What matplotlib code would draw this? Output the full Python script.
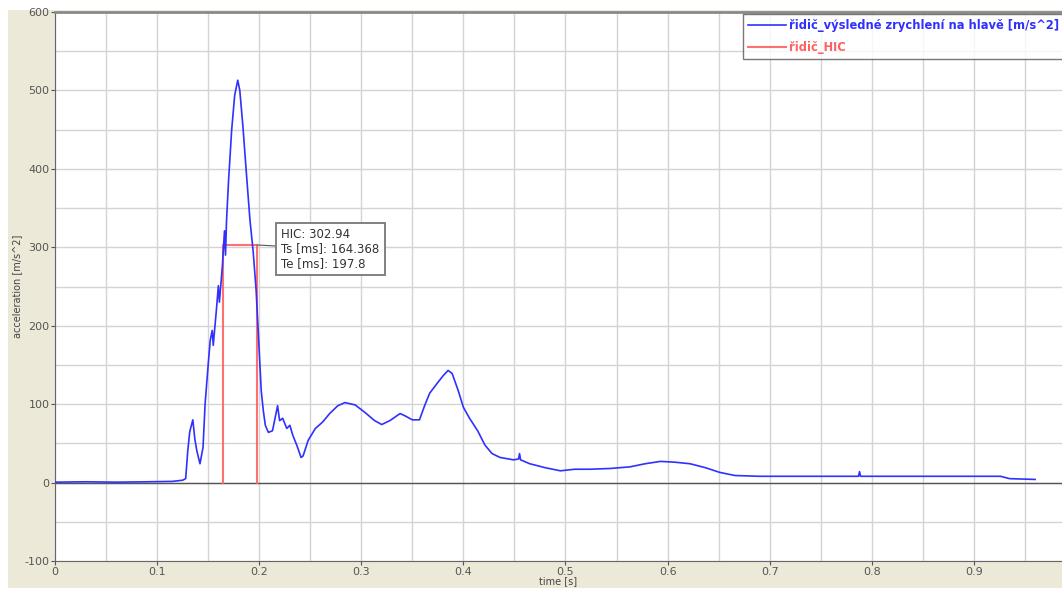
import matplotlib
matplotlib.use("Agg")
import matplotlib.pyplot as plt
from matplotlib.patches import Rectangle
from matplotlib.ticker import MultipleLocator

# ---- data ----
time_s = [0.000, 0.030, 0.060, 0.090, 0.115, 0.125, 0.128, 0.130, 0.132, 0.135, 0.137,
          0.139, 0.142, 0.145, 0.147, 0.150, 0.152, 0.154, 0.155, 0.158, 0.160, 0.161,
          0.164, 0.166, 0.167, 0.168, 0.170, 0.173, 0.176, 0.179, 0.181, 0.184, 0.188,
          0.191, 0.194, 0.197, 0.199, 0.202, 0.204, 0.206, 0.209, 0.213, 0.216, 0.218,
          0.220, 0.223, 0.227, 0.230, 0.233, 0.237, 0.241, 0.243, 0.248, 0.255, 0.262,
          0.269, 0.277, 0.284, 0.294, 0.304, 0.313, 0.320, 0.328, 0.338, 0.343, 0.350,
          0.357, 0.362, 0.367, 0.374, 0.380, 0.385, 0.389, 0.395, 0.400, 0.406, 0.414,
          0.421, 0.428, 0.436, 0.449, 0.454, 0.455, 0.456, 0.465, 0.480, 0.495, 0.509,
          0.524, 0.544, 0.563, 0.578, 0.593, 0.607, 0.622, 0.637, 0.651, 0.666, 0.690,
          0.730, 0.787, 0.788, 0.789, 0.830, 0.886, 0.926, 0.935, 0.960]
accel = [0.5, 1.0, 0.5, 1.0, 1.5, 3, 5, 40, 65, 80, 55,
         40, 24, 45, 100, 150, 181, 194, 175, 219, 251, 230,
         277, 321, 290, 334, 385, 449, 494, 513, 500, 455, 385,
         334, 296, 245, 194, 117, 92, 73, 64, 66, 85, 98,
         79, 82, 69, 73, 60, 47, 32, 34, 54, 69, 77,
         88, 98, 102, 99, 89, 79, 74, 79, 88, 85, 80,
         80, 98, 114, 126, 136, 143, 139, 117, 96, 82, 66,
         48, 37, 32, 29, 30, 37, 29, 24, 19, 15, 17,
         17, 18, 20, 24, 27, 26, 24, 19, 13, 9, 8,
         8, 8, 14, 8, 8, 8, 8, 5, 4]

hic_value = 302.94
hic_ts_ms = 164.368
hic_te_ms = 197.8

x_ticks = [0, 0.1, 0.2, 0.3, 0.4, 0.5, 0.6, 0.7, 0.8, 0.9]
y_ticks = [-100, 0, 100, 200, 300, 400, 500, 600]

# ---- figure ----
fig = plt.figure(figsize=(10.62, 5.90), dpi=100, facecolor="white")
fig.patches.append(Rectangle((8 / 1062, 2 / 590), 1 - 8 / 1062, 578 / 590,
                             transform=fig.transFigure, facecolor="#ECE9D8",
                             edgecolor="none", zorder=-10))

ax = fig.add_axes([55 / 1062, 1 - 561 / 590, 1 - 55 / 1062, (561 - 12) / 590])
ax.set_facecolor("white")
ax.set_xlim(0, 0.9863)
ax.set_ylim(-100, 600)

ax.xaxis.set_minor_locator(MultipleLocator(0.05))
ax.yaxis.set_minor_locator(MultipleLocator(50))
ax.set_xticks(x_ticks)
ax.set_xticklabels([f"{v:g}" for v in x_ticks])
ax.set_yticks(y_ticks)
ax.set_yticklabels([str(v) for v in y_ticks])
ax.grid(True, which="both", color="#d4d4d4", linewidth=1.0)
ax.set_axisbelow(True)
ax.tick_params(which="major", length=3, color="#555555", labelcolor="#555555",
               labelsize=8, pad=1)
ax.tick_params(which="minor", length=0)

ax.spines["right"].set_visible(False)
ax.spines["left"].set_color("#666666")
ax.spines["bottom"].set_color("#666666")
ax.spines["top"].set_color("#8a8a8a")
ax.spines["top"].set_linewidth(2)
ax.axhline(0, color="#555555", linewidth=1.0, zorder=1.5)

blue = "#3030ff"
red = "#ff6060"
ax.plot(time_s, accel, color=blue, linewidth=1.2, zorder=3,
        label="řidič_výsledné zrychlení na hlavě [m/s^2]")
ts = hic_ts_ms / 1000
te = hic_te_ms / 1000
ax.plot([ts, ts, te, te], [0, hic_value, hic_value, 0], color=red,
        linewidth=1.5, alpha=0.9, zorder=2, label="řidič_HIC")

ax.set_xlabel("time [s]", fontsize=7, color="#444444", labelpad=0)
ax.set_ylabel("acceleration [m/s^2]", fontsize=7, color="#444444", labelpad=2)

# annotation box
ax.annotate(f"HIC: {hic_value:.2f}\nTs [ms]: {hic_ts_ms:g}\nTe [ms]: {hic_te_ms:g}",
            xy=(te, hic_value), xytext=(0.2215, 298),
            textcoords="data", fontsize=8.5, color="#333333", va="center", ha="left",
            linespacing=1.15,
            bbox=dict(boxstyle="square,pad=0.45", facecolor="white", edgecolor="#777777",
                      linewidth=1.3),
            arrowprops=dict(arrowstyle="-", color="#555555", linewidth=0.8,
                            shrinkA=0, shrinkB=0))

leg = ax.legend(loc="upper right", bbox_to_anchor=(1.005, 1.0), fontsize=8.3,
                frameon=True, fancybox=False, borderpad=0.45, labelspacing=0.75,
                handlelength=3.3, handletextpad=0.3, borderaxespad=0.2)
leg.get_frame().set_edgecolor("#555555")
leg.get_frame().set_linewidth(1.0)
for txt, col in zip(leg.get_texts(), [blue, red]):
    txt.set_color(col)
    txt.set_fontweight("bold")

fig.savefig("out.png", dpi=100, facecolor=fig.get_facecolor())
